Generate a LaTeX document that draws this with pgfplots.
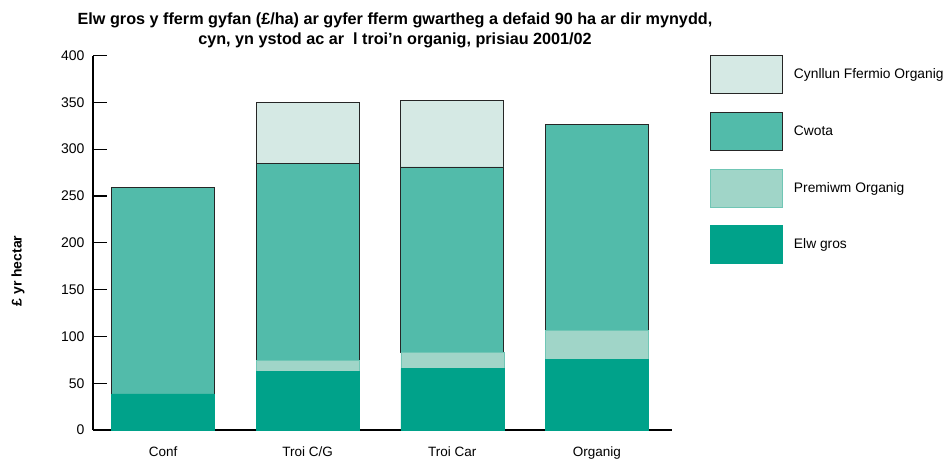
\documentclass[border=0pt]{standalone}
\usepackage{pgfplots}
\pgfplotsset{compat=1.18}
\usepackage{fontspec}
\setmainfont{Liberation Sans}
\definecolor{elw}{HTML}{00A28A}
\definecolor{prem}{HTML}{A0D5C8}
\definecolor{cwota}{HTML}{52BBAA}
\definecolor{cfo}{HTML}{D5E9E4}
\begin{document}
\begin{tikzpicture}[x=1pt,y=1pt]
\useasboundingbox (0,0) rectangle (947,459);
\node[font=\fontsize{16.2}{20}\selectfont\bfseries, align=center] at (395,428.5)
  {Elw gros y fferm gyfan (£/ha) ar gyfer fferm gwartheg a defaid 90 ha ar dir mynydd,\\
   cyn, yn ystod ac ar\ \ l troi’n organig, prisiau 2001/02};
\node[font=\fontsize{14}{16}\selectfont\bfseries, rotate=90] at (18,188) {£ yr hectar};
\begin{axis}[
  at={(93pt,29pt)}, anchor=south west,
  scale only axis, width=579pt, height=374.5pt,
  xmin=-0.485, xmax=3.52, ymin=0, ymax=400,
  axis lines*=left,
  axis line style={black, line width=1.3pt},
  ybar stacked, bar width=103pt,
  ytick={0,50,...,400},
  xtick={0,1,2,3},
  xticklabels={Conf,Troi C/G,Troi Car,Organig},
  major x tick style={draw=none},
  extra x ticks={0.5,1.5,2.5,3.5},
  extra x tick labels={},
  extra x tick style={major tick length=8pt, tick style={draw=black, line width=1.2pt}},
  tick align=inside,
  major tick length=14pt,
  tick style={black, line width=1.2pt},
  /pgf/number format/assume math mode=true,
  yticklabel style={font=\fontsize{14}{14}\selectfont, xshift=-5pt},
  xticklabel style={font=\fontsize{13.5}{13.5}\selectfont, yshift=-13pt},
  legend image code/.code={\draw[#1] (0pt,-19pt) rectangle (72pt,19pt);},
  legend reversed=true,
  legend style={at={(1.0656,1.0013)}, anchor=north west, draw=none, fill=none,
    inner sep=0pt, row sep=18pt, /tikz/column sep=9pt,
    font=\fontsize{13.8}{13.8}\selectfont, cells={anchor=west}},
]
\addplot[fill=elw, draw=elw] coordinates {(0,38.5) (1,62.3) (2,65.5) (3,75.5)};
\addplot[fill=prem, draw=prem!70!elw] coordinates {(0,0) (1,11.8) (2,17.5) (3,30.6)};
\addplot[fill=cwota, draw=black!85, line width=0.8pt] coordinates {(0,221) (1,211) (2,198) (3,220)};
\addplot[fill=cfo, draw=black!85, line width=0.8pt] coordinates {(0,0) (1,65) (2,71) (3,0)};
\legend{Elw gros, Premiwm Organig, Cwota, Cynllun Ffermio Organig}
\end{axis}
\end{tikzpicture}
\end{document}
